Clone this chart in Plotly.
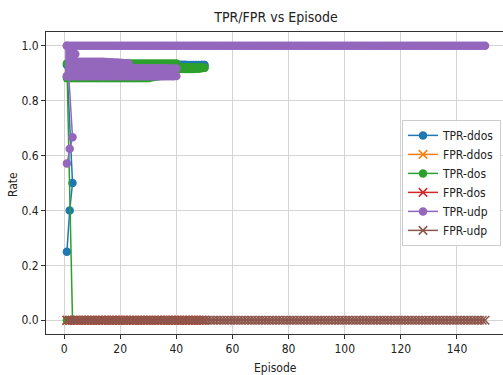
import plotly.graph_objects as go

# ---------------- data ----------------
episodes_all = list(range(1, 151))          # long udp run
episodes_50 = list(range(1, 51))            # ddos / dos runs
episodes_40 = list(range(1, 41))            # udp oscillating run
init_episodes = [1, 2, 3]

tpr_ddos_init = [0.25, 0.40, 0.50]
tpr_dos_init = [0.0, 0.0, 0.0]
tpr_udp_init = [0.571, 0.625, 0.667]

# per-episode upper / lower envelope of the oscillating TPR runs
tpr_ddos_hi = [0.93, 0.93, 0.93, 0.93, 0.93, 0.93, 0.93, 0.93, 0.93, 0.93,
               0.93, 0.93, 0.93, 0.93, 0.93, 0.93, 0.93, 0.93, 0.93, 0.93,
               0.93, 0.93, 0.93, 0.93, 0.93, 0.93, 0.93, 0.93, 0.93, 0.93,
               0.93, 0.93, 0.93, 0.93, 0.93, 0.93, 0.93, 0.93, 0.93, 0.93,
               0.931, 0.931, 0.931, 0.93, 0.93, 0.93, 0.93, 0.93, 0.93, 0.93]
tpr_ddos_lo = [0.89, 0.89, 0.89, 0.89, 0.89, 0.89, 0.89, 0.89, 0.89, 0.89,
               0.89, 0.89, 0.89, 0.89, 0.89, 0.89, 0.89, 0.89, 0.89, 0.89,
               0.89, 0.89, 0.89, 0.89, 0.89, 0.89, 0.89, 0.89, 0.89, 0.89,
               0.89, 0.89, 0.89, 0.89, 0.89, 0.90, 0.91, 0.92, 0.92, 0.92,
               0.92, 0.92, 0.92, 0.92, 0.92, 0.92, 0.925, 0.925, 0.93, 0.93]
tpr_dos_hi = [0.935, 0.935, 0.935, 0.935, 0.935, 0.935, 0.935, 0.935, 0.935, 0.935,
              0.935, 0.935, 0.935, 0.935, 0.935, 0.935, 0.935, 0.935, 0.935, 0.935,
              0.935, 0.935, 0.935, 0.935, 0.935, 0.935, 0.935, 0.935, 0.935, 0.935,
              0.935, 0.935, 0.935, 0.935, 0.935, 0.935, 0.935, 0.935, 0.935, 0.935,
              0.922, 0.922, 0.922, 0.922, 0.922, 0.922, 0.922, 0.922, 0.922, 0.92]
tpr_dos_lo = [0.882, 0.882, 0.882, 0.882, 0.882, 0.882, 0.882, 0.882, 0.882, 0.882,
              0.882, 0.882, 0.882, 0.882, 0.882, 0.882, 0.882, 0.882, 0.882, 0.882,
              0.882, 0.882, 0.882, 0.882, 0.882, 0.882, 0.882, 0.882, 0.882, 0.882,
              0.884, 0.886, 0.888, 0.89, 0.893, 0.898, 0.904, 0.91, 0.912, 0.914,
              0.915, 0.915, 0.915, 0.915, 0.915, 0.915, 0.916, 0.916, 0.918, 0.92]
tpr_udp_hi = [1.0, 0.99, 0.98, 0.97, 0.942, 0.942, 0.942, 0.942, 0.942, 0.942,
              0.942, 0.942, 0.942, 0.942, 0.941, 0.94, 0.94, 0.939, 0.939, 0.938,
              0.937, 0.936, 0.935, 0.918, 0.918, 0.918, 0.918, 0.918, 0.918, 0.918,
              0.918, 0.918, 0.918, 0.918, 0.918, 0.918, 0.917, 0.917, 0.917, 0.917]
tpr_udp_lo = [0.889, 0.889, 0.889, 0.889, 0.889, 0.889, 0.889, 0.889, 0.889, 0.889,
              0.889, 0.889, 0.889, 0.889, 0.889, 0.889, 0.889, 0.889, 0.889, 0.889,
              0.889, 0.889, 0.889, 0.889, 0.889, 0.889, 0.889, 0.889, 0.889, 0.889,
              0.889, 0.889, 0.889, 0.889, 0.889, 0.889, 0.889, 0.889, 0.889, 0.89]
tpr_udp_run = [1.0] * 150                    # flat at 1.0 for every episode

fpr_ddos = [0.0] * 50
fpr_dos = [0.0] * 50
fpr_udp = [0.0] * 150

series_names = ["TPR-ddos", "FPR-ddos", "TPR-dos", "FPR-dos", "TPR-udp", "FPR-udp"]
series_colors = ["#1f77b4", "#ff7f0e", "#2ca02c", "#d62728", "#9467bd", "#8c564b"]

FONT = "DejaVu Sans Condensed, DejaVu Sans, sans-serif"
MARKER_SIZE = 8.5


def band_xy(episodes, hi, lo):
    xs, ys = [], []
    for e, h, l in zip(episodes, hi, lo):
        xs += [e, e]
        ys += [h, l]
    return xs, ys


fig = go.Figure()


def add_tpr(name, color, init_y, band_eps, hi, lo, extra_x=None, extra_y=None):
    bx, by = band_xy(band_eps, hi, lo)
    # thick underlay so the rapidly oscillating run reads as a solid band
    fig.add_trace(go.Scatter(x=bx, y=by, mode="lines", line=dict(color=color, width=3.5),
                             showlegend=False, hoverinfo="skip"))
    xs = init_episodes + bx
    ys = init_y + by
    if extra_x is not None:
        xs = xs + [None] + extra_x
        ys = ys + [None] + extra_y
    fig.add_trace(go.Scatter(x=xs, y=ys, mode="lines+markers", name=name,
                             line=dict(color=color, width=1.5),
                             marker=dict(color=color, size=MARKER_SIZE, symbol="circle")))


def add_fpr(name, color, xs, ys):
    fig.add_trace(go.Scatter(x=xs, y=ys, mode="lines+markers", name=name,
                             line=dict(color=color, width=1.5),
                             marker=dict(symbol="x-thin", size=MARKER_SIZE, color=color,
                                         line=dict(color=color, width=1.5))))


add_tpr("TPR-ddos", series_colors[0], tpr_ddos_init, episodes_50, tpr_ddos_hi, tpr_ddos_lo)
add_fpr("FPR-ddos", series_colors[1], episodes_50, fpr_ddos)
add_tpr("TPR-dos", series_colors[2], tpr_dos_init, episodes_50, tpr_dos_hi, tpr_dos_lo)
add_fpr("FPR-dos", series_colors[3], episodes_50, fpr_dos)
add_tpr("TPR-udp", series_colors[4], tpr_udp_init, episodes_40, tpr_udp_hi, tpr_udp_lo,
        episodes_all, tpr_udp_run)
add_fpr("FPR-udp", series_colors[5], episodes_all, fpr_udp)

axis_common = dict(showgrid=True, gridcolor="#d4d4d4", gridwidth=1, zeroline=False,
                   showline=True, linecolor="#333333", linewidth=1,
                   ticks="outside", ticklen=4, tickcolor="#333333",
                   tickfont=dict(family=FONT, size=12, color="#222222"))

fig.update_layout(
    width=503, height=375,
    margin=dict(l=46, r=0, t=32, b=41),
    paper_bgcolor="white", plot_bgcolor="white",
    font=dict(family=FONT, size=12, color="#222222"),
    title=dict(text="TPR/FPR vs Episode", x=276 / 503, xref="container", xanchor="center",
               y=1 - 17 / 375, yref="container", yanchor="middle",
               font=dict(family=FONT, size=14, color="#222222")),
    xaxis=dict(range=[-6.45, 156.4], tickvals=[0, 20, 40, 60, 80, 100, 120, 140],
               mirror=True, **axis_common),
    yaxis=dict(range=[-0.05, 1.05], tickvals=[0.0, 0.2, 0.4, 0.6, 0.8, 1.0],
               tickformat=".1f", mirror=False, **axis_common),
    legend=dict(x=0.9956, xanchor="right", y=0.709, yanchor="top",
                bgcolor="rgba(255,255,255,0.85)", bordercolor="#cccccc", borderwidth=1,
                tracegroupgap=0,
                font=dict(family=FONT, size=12, color="#222222")),
    showlegend=True,
    annotations=[
        dict(text="Episode", xref="paper", yref="paper", x=0.503, y=-0.1126,
             xanchor="center", yanchor="middle", showarrow=False,
             font=dict(family=FONT, size=12, color="#222222")),
        dict(text="Rate", xref="paper", yref="paper", x=-0.0722, y=0.4934,
             xanchor="center", yanchor="middle", showarrow=False, textangle=-90,
             font=dict(family=FONT, size=12, color="#222222")),
    ],
)

fig.write_html("out.html", config={"displayModeBar": False},
               post_script="document.body.style.margin='0px';")
